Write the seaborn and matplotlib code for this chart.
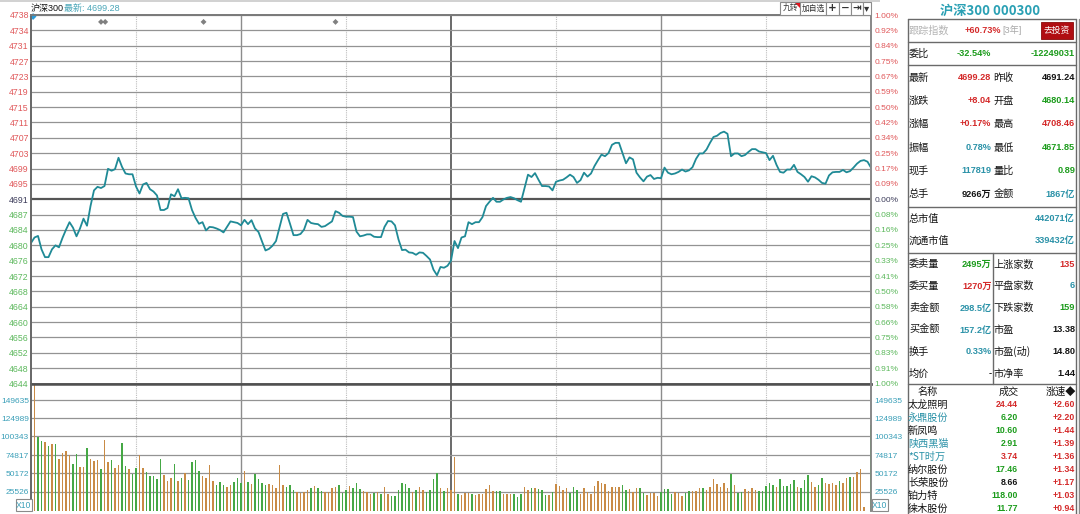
import numpy as np
import matplotlib
matplotlib.use('Agg')
import matplotlib.pyplot as plt
import seaborn as sns
from matplotlib.patches import Rectangle, Polygon
from matplotlib.lines import Line2D

sns.set_theme(style='white')
plt.rcParams['font.family'] = ['Liberation Sans', 'Noto Sans CJK SC', 'DejaVu Sans']

W, H = 1080, 514
PREV_CLOSE = 4691.24

# ---------------- data ----------------
price = [
    4680.1, 4681.5, 4681.9, 4678.5, 4676.5, 4676.5, 4678.5, 4679.5, 4679.0, 4681.4,
    4683.5, 4685.4, 4684.0, 4681.8, 4683.8, 4686.3, 4684.5, 4689.5, 4693.5, 4694.4,
    4694.1, 4694.6, 4699.0, 4698.5, 4698.9, 4701.8, 4699.5, 4697.8, 4697.6, 4697.6,
    4694.5, 4692.7, 4695.0, 4695.4, 4693.8, 4693.2, 4692.2, 4688.5, 4688.5, 4689.0,
    4692.5, 4692.0, 4693.8, 4691.5, 4691.6, 4691.5, 4688.5, 4686.5, 4685.0, 4685.4,
    4683.3, 4684.2, 4684.1, 4683.8, 4683.4, 4682.8, 4684.2, 4685.6, 4685.4, 4685.2,
    4684.6, 4686.0, 4684.9, 4685.9, 4683.8, 4682.9, 4680.5, 4678.2, 4678.6, 4679.4,
    4680.6, 4684.0, 4687.5, 4687.8, 4685.0, 4682.1, 4682.1, 4682.4, 4683.5, 4686.0,
    4685.2, 4685.0, 4684.9, 4684.2, 4684.4, 4685.0, 4685.6, 4688.2, 4687.8, 4687.0,
    4686.8, 4686.8, 4686.7, 4683.0, 4681.8, 4682.0, 4682.3, 4682.3, 4681.7, 4681.6,
    4681.6, 4684.2, 4685.7, 4685.6, 4684.6, 4681.0, 4678.3, 4678.4, 4677.7, 4677.6,
    4677.1, 4677.7, 4677.6, 4676.8, 4675.9, 4673.3, 4671.9, 4674.0, 4673.8, 4674.3,
    4675.6, 4680.6, 4678.8, 4681.5, 4681.8, 4685.4, 4684.9, 4685.4, 4685.4, 4686.7,
    4689.5, 4690.6, 4691.6, 4690.6, 4690.6, 4691.2, 4691.6, 4691.8, 4691.5, 4691.0,
    4690.6, 4694.0, 4697.5, 4696.9, 4697.9, 4696.2, 4694.6, 4694.6, 4694.5, 4693.5,
    4695.7, 4696.0, 4696.2, 4696.8, 4697.5, 4696.9, 4695.4, 4696.1, 4698.0, 4697.0,
    4697.8, 4699.7, 4701.2, 4702.6, 4702.2, 4703.0, 4705.1, 4705.6, 4705.6, 4703.0,
    4700.4, 4701.9, 4701.4, 4698.0, 4696.8, 4695.8, 4697.0, 4697.4, 4696.4, 4696.7,
    4696.6, 4699.3, 4698.0, 4697.6, 4697.8, 4698.2, 4698.8, 4698.3, 4698.6, 4699.4,
    4701.5, 4702.9, 4702.9, 4703.9, 4705.6, 4707.1, 4707.4, 4708.1, 4708.46, 4707.9,
    4702.2, 4702.9, 4702.9, 4702.2, 4702.5, 4703.3, 4704.0, 4704.0, 4703.4, 4703.2,
    4703.0, 4701.2, 4702.3, 4700.0, 4698.2, 4698.0, 4698.8, 4698.8, 4700.0, 4698.2,
    4697.6, 4696.9, 4695.7, 4697.1, 4696.8, 4696.2, 4695.4, 4695.2, 4697.3, 4698.1,
    4698.2, 4698.2, 4698.7, 4698.1, 4698.4, 4699.3, 4700.3, 4701.0, 4701.2, 4700.8,
    4699.28,
]

volume_am = [
    175000, 99900, 94100, 92700, 86800, 90000, 90000, 70200, 77800, 80500,
    74700, 63000, 76000, 58400, 58400, 84600, 69300, 67100, 68400, 56200,
    95400, 65200, 68400, 57200, 61700, 90900, 60900, 55700, 49500, 57200,
    75100, 58000, 52100, 46700, 46700, 43200, 69300, 47600, 39900, 44000,
    63400, 39500, 44000, 50300, 41300, 65200, 68400, 53000, 46700, 44500,
    61700, 39900, 34900, 39000, 34900, 32200, 34000, 38100, 43500, 36700,
    53900, 38100, 35800, 49500, 42300, 37200, 34000, 35800, 34000, 30400,
    61700, 34500, 31300, 34000, 27700, 24600, 23300, 25100, 27700, 29900,
    33100, 30800, 26300, 25100, 25100, 29900, 32200, 34000, 24200, 27700,
    33100, 30800, 36700, 29000, 26300, 25100, 22400, 24200, 25100, 22400,
    32200, 22400, 19600, 19600, 27700, 36700, 35800, 29900, 25100, 27700,
    32200, 27700, 25100, 27700, 42300, 50300, 30800, 26300, 29900, 27700,
]
volume_pm = [
    72000, 22400, 21200, 23300, 23300, 21900, 21200, 23000, 22400, 29000,
    34900, 26300, 26300, 26300, 21900, 21900, 21900, 22400, 18800, 22400,
    31300, 27700, 30400, 30400, 29500, 27700, 21200, 21200, 24600, 35800,
    33100, 27700, 30400, 23300, 31300, 27700, 22400, 29900, 25100, 22400,
    33100, 39500, 37200, 36300, 26800, 32200, 32200, 31300, 34000, 27700,
    29000, 25100, 29900, 30400, 24200, 21200, 23300, 23300, 20100, 24600,
    29000, 28600, 23000, 24600, 23300, 20100, 23300, 26800, 26800, 26800,
    30400, 30400, 27700, 31700, 42300, 35800, 31300, 36700, 29900, 49500,
    34000, 23300, 25100, 29000, 26300, 29900, 27700, 26300, 26300, 33100,
    37600, 34500, 32200, 42300, 33100, 33100, 35800, 41300, 32200, 30800,
    41300, 48100, 38100, 32200, 34900, 43500, 36700, 35800, 36700, 34500,
    39900, 36700, 43500, 45300, 45300, 52100, 56200, 4500, 0, 116000,
]
# u = up bar (orange), d = down bar (green)
volume_dir_am = ("uddududuuu" "udduuduuud" "uuduuddudd" "uuddddduuu"
                 "dududddduu" "uuddduuddd" "ududddduuu" "uuddduuuud"
                 "udduuuuddd" "uddduuudud" "uuddddddud" "uudddduduu")
volume_dir_pm = ("uduuuduuuu" "uudduuuddd" "uududddudu" "uuuddduuuu"
                 "uuuuuuuudd" "uuudduuuud" "ddduuudduu" "uduuuuuuud"
                 "udduuuuddd" "ddudddddud" "dduudduuuu" "duuduuuuud")

price_left_labels = ['4738', '4734', '4731', '4727', '4723', '4719', '4715', '4711',
                     '4707', '4703', '4699', '4695', '4691', '4687', '4684', '4680',
                     '4676', '4672', '4668', '4664', '4660', '4656', '4652', '4648', '4644']
price_right_labels = ['1.00%', '0.92%', '0.84%', '0.75%', '0.67%', '0.59%', '0.50%', '0.42%',
                      '0.34%', '0.25%', '0.17%', '0.09%', '0.00%', '0.08%', '0.16%', '0.25%',
                      '0.33%', '0.41%', '0.50%', '0.58%', '0.66%', '0.75%', '0.83%', '0.91%', '1.00%']
volume_ticks = [25526, 50172, 74817, 100343, 124989, 149635]
event_minutes = [20, 21.2, 49.3, 87]

RED = '#d42a2a'
GREEN = '#1c9c1c'
TEAL = '#2b92a8'
BLACK = '#141414'
LRED = '#e0585a'
LGREEN = '#5cb85c'
UP_BAR = '#c98b45'
DN_BAR = '#45a845'
LINE = '#1f8a96'

# ---------------- figure ----------------
fig = plt.figure(figsize=(W / 100, H / 100), dpi=100)
fig.patch.set_facecolor('white')


def fx(px):
    return px / W


def fy(py):
    return 1 - py / H


X0, X1 = 31, 871
PT, PB, VB = 15, 383.5, 510.5
ax = fig.add_axes([fx(X0), fy(PB), (X1 - X0) / W, (PB - PT) / H])
axv = fig.add_axes([fx(X0), fy(VB), (X1 - X0) / W, (VB - PB) / H])

n_min = len(price) - 1
lo, hi = PREV_CLOSE * 0.99, PREV_CLOSE * 1.01
step = (hi - PREV_CLOSE) / 12
price_ticks = PREV_CLOSE + step * np.arange(12, -13, -1)

for a in (ax, axv):
    a.set_facecolor('white')
    a.set_xlim(0, n_min)
    a.set_xticks([])
    for v in (30, 90, 150, 210):
        a.axvline(v, color='#bdbdbd', lw=0.8, ls=(0, (1, 1)), zorder=1)
    for v in (60, 180):
        a.axvline(v, color='#8c8c8c', lw=1.0, zorder=1)
    a.axvline(120, color='#5e5e5e', lw=1.3, zorder=1)

# price grid
ax.set_ylim(lo, hi)
for i, t in enumerate(price_ticks):
    if i == 12:
        ax.axhline(t, color='#555555', lw=1.6, zorder=1)
    else:
        ax.axhline(t, color='#939393', lw=0.9, zorder=1)

minutes = np.arange(len(price))
sns.lineplot(x=minutes, y=price, ax=ax, color=LINE, lw=1.3, zorder=5)

# event markers at top
sns.scatterplot(x=event_minutes, y=[PREV_CLOSE + step * 11.55] * len(event_minutes), ax=ax,
                marker='D', s=9, color='#808080', edgecolor='none', zorder=6)
sns.scatterplot(x=[0.6], y=[PREV_CLOSE + step * 11.9], ax=ax, marker='D', s=12,
                color='#2a9ad6', edgecolor='none', zorder=6, clip_on=False)

ax.set_yticks(price_ticks)
ax.set_yticklabels(price_left_labels)
ax.tick_params(axis='y', length=0, pad=1.5, labelsize=6.3)
left_cols = [LRED] * 12 + ['#3c3c5a'] + [LGREEN] * 12
for lab, c in zip(ax.get_yticklabels(), left_cols):
    lab.set_color(c)
ax2 = ax.twinx()
ax2.set_ylim(lo, hi)
ax2.set_yticks(price_ticks)
ax2.set_yticklabels(price_right_labels)
ax2.tick_params(axis='y', length=0, pad=2.5, labelsize=6.0)
for lab, c in zip(ax2.get_yticklabels(), left_cols):
    lab.set_color(c)
ax2.grid(False)
ax.set_xlabel('')
ax.set_ylabel('')
ax.legend_ = None

for a in (ax, ax2):
    a.spines['left'].set_color('#666666')
    a.spines['left'].set_linewidth(1.2)
    a.spines['right'].set_color('#8a8a8a')
    a.spines['top'].set_color('#7a7a7a')
    a.spines['bottom'].set_color('#505050')
    a.spines['bottom'].set_linewidth(1.8)

# volume
vol = volume_am + volume_pm
dirs = volume_dir_am + volume_dir_pm
bar_minutes = np.arange(1, len(vol) + 1)
colors = [UP_BAR if d == 'u' else DN_BAR for d in dirs]
axv.set_ylim(0, 172000)
for t in volume_ticks:
    axv.axhline(t, color='#939393', lw=0.9, zorder=1)
axv.bar(bar_minutes, vol, width=0.56, color=colors, linewidth=0, zorder=3)
axv.set_yticks(volume_ticks)
axv.set_yticklabels([str(v) for v in volume_ticks])
axv.tick_params(axis='y', length=0, pad=1.5, labelsize=6.0, labelcolor='#3a9fb8')
axv2 = axv.twinx()
axv2.set_ylim(0, 172000)
axv2.set_yticks(volume_ticks)
axv2.set_yticklabels([str(v) for v in volume_ticks])
axv2.tick_params(axis='y', length=0, pad=2.5, labelsize=6.0, labelcolor='#3a9fb8')
for a in (axv, axv2):
    a.spines['top'].set_visible(False)
    a.spines['bottom'].set_visible(False)
    a.spines['left'].set_color('#666666')
    a.spines['left'].set_linewidth(1.2)
    a.spines['right'].set_color('#8a8a8a')

# X10 boxes
for bx in (16, 872):
    fig.patches.append(Rectangle((fx(bx), fy(511)), 16 / W, 12 / H, transform=fig.transFigure,
                                 facecolor='white', edgecolor='#8a8a8a', lw=0.8))
    fig.text(fx(bx + 8), fy(505), 'X10', ha='center', va='center', fontsize=6.2, color='#3a9fb8')

# ---------------- header ----------------
fig.patches.append(Rectangle((0, fy(2)), fx(880), 2 / H, transform=fig.transFigure,
                             facecolor='#d2d2d2', edgecolor='none'))
fig.text(fx(31), fy(8), '沪深300', ha='left', va='center', fontsize=6.5, color=BLACK)
fig.text(fx(64), fy(8), '最新: 4699.28', ha='left', va='center', fontsize=6.5, color='#4aa6b8')

tool_boxes = [(780, 800, '九转'), (800, 826, '加自选'), (826, 839, '+'), (839, 851, '−'),
              (851, 863, '⇥'), (863, 871, '▾')]
for xa, xb, lab in tool_boxes:
    fig.patches.append(Rectangle((fx(xa), fy(14.5)), (xb - xa) / W, 12.5 / H,
                                 transform=fig.transFigure, facecolor='white',
                                 edgecolor='#8c8c8c', lw=0.8))
    fam = ['DejaVu Sans'] if lab in ('⇥', '▾', '+', '−') else ['Noto Sans CJK SC', 'DejaVu Sans']
    fig.text(fx((xa + xb) / 2), fy(8.3), lab, ha='center', va='center',
             fontsize=5.6 if len(lab) > 1 else 7.5, color='#333333', family=fam,
             fontweight='bold' if lab in ('+', '−', '⇥') else 'normal')
fig.patches.append(Polygon([(fx(795), fy(2.5)), (fx(800), fy(2.5)), (fx(800), fy(7.5))],
                           closed=True, transform=fig.transFigure, facecolor='#e0141e',
                           edgecolor='none'))

# ---------------- right panel ----------------
PL, PR, PM = 907.5, 1076, 992.5


def hline(y, x0=PL, x1=PR, c='#6a6a6a', lw=1.0):
    fig.lines.append(Line2D([fx(x0), fx(x1)], [fy(y), fy(y)], transform=fig.transFigure,
                            color=c, lw=lw))


def vline(x, y0, y1, c='#6a6a6a', lw=1.0):
    fig.lines.append(Line2D([fx(x), fx(x)], [fy(y0), fy(y1)], transform=fig.transFigure,
                            color=c, lw=lw))


fig.text(fx(990), fy(10.5), '沪深300 000300', ha='center', va='center', fontsize=9.5,
         color='#2aa0b4', fontweight='bold', family=['Noto Sans CJK SC', 'DejaVu Sans'])

vline(PL, 19, 514)
vline(PR, 19, 514)
vline(1078.5, 19, 514, c='#8a8a8a')
hline(19)
for yy in (41.5, 65, 206.5, 253, 384):
    hline(yy)
vline(PM, 253, 384)

cfs = dict(fontsize=7.3, va='center', family=['Noto Sans CJK SC', 'DejaVu Sans'])
nfs = dict(fontsize=6.6, va='center', fontweight='bold')

fig.text(fx(909), fy(30.5), '跟踪指数', ha='left', color='#b4b4b4', **cfs)
fig.text(fx(1001), fy(30.5), '+60.73%', ha='right', color=RED, **nfs)
fig.text(fx(1002), fy(30.5), '[3年]', ha='left', color='#a8a8a8', fontsize=6.6, va='center')
fig.patches.append(Rectangle((fx(1041), fy(38.5)), 32 / W, 16.5 / H, transform=fig.transFigure,
                             facecolor='#b00e12', edgecolor='#8a0a0a', lw=0.6))
fig.text(fx(1057), fy(30.3), '去投资', ha='center', color='white', fontsize=6.3, va='center',
         family=['Noto Sans CJK SC', 'DejaVu Sans'])

fig.text(fx(909), fy(53.5), '委比', ha='left', color=BLACK, **cfs)
fig.text(fx(991), fy(53.5), '-32.54%', ha='right', color=GREEN, **nfs)
fig.text(fx(1075), fy(53.5), '-12249031', ha='right', color=GREEN, **nfs)

quote_names_l = ['最新', '涨跌', '涨幅', '振幅', '现手', '总手']
quote_vals_l = ['4699.28', '+8.04', '+0.17%', '0.78%', '117819', '9266万']
quote_cols_l = [RED, RED, RED, TEAL, TEAL, BLACK]
quote_names_r = ['昨收', '开盘', '最高', '最低', '量比', '金额']
quote_vals_r = ['4691.24', '4680.14', '4708.46', '4671.85', '0.89', '1867亿']
quote_cols_r = [BLACK, GREEN, RED, GREEN, GREEN, TEAL]
quote_y = [77.5, 100.5, 124, 147.5, 171, 194.5]
for i, y in enumerate(quote_y):
    fig.text(fx(909), fy(y), quote_names_l[i], ha='left', color=BLACK, **cfs)
    fig.text(fx(991), fy(y), quote_vals_l[i], ha='right', color=quote_cols_l[i],
             family=['Liberation Sans', 'Noto Sans CJK SC'], **nfs)
    fig.text(fx(993.5), fy(y), quote_names_r[i], ha='left', color=BLACK, **cfs)
    fig.text(fx(1075), fy(y), quote_vals_r[i], ha='right', color=quote_cols_r[i],
             family=['Liberation Sans', 'Noto Sans CJK SC'], **nfs)

fig.text(fx(909), fy(218.5), '总市值', ha='left', color=BLACK, **cfs)
fig.text(fx(1075), fy(218.5), '442071亿', ha='right', color=TEAL,
         family=['Liberation Sans', 'Noto Sans CJK SC'], **nfs)
fig.text(fx(909), fy(241), '流通市值', ha='left', color=BLACK, **cfs)
fig.text(fx(1075), fy(241), '339432亿', ha='right', color=TEAL,
         family=['Liberation Sans', 'Noto Sans CJK SC'], **nfs)

order_names_l = ['委卖量', '委买量', '卖金额', '买金额', '换手', '均价']
order_vals_l = ['2495万', '1270万', '298.5亿', '157.2亿', '0.33%', '-']
order_cols_l = [GREEN, RED, TEAL, TEAL, TEAL, BLACK]
order_names_r = ['上涨家数', '平盘家数', '下跌家数', '市盈', '市盈(动)', '市净率']
order_vals_r = ['135', '6', '159', '13.38', '14.80', '1.44']
order_cols_r = [RED, TEAL, GREEN, BLACK, BLACK, BLACK]
order_y = [264.5, 286, 308, 330, 351.5, 373.5]
for i, y in enumerate(order_y):
    fig.text(fx(909), fy(y), order_names_l[i], ha='left', color=BLACK, **cfs)
    fig.text(fx(991.5), fy(y), order_vals_l[i], ha='right', color=order_cols_l[i],
             family=['Liberation Sans', 'Noto Sans CJK SC'], **nfs)
    fig.text(fx(993.5), fy(y), order_names_r[i], ha='left', color=BLACK, **cfs)
    fig.text(fx(1075), fy(y), order_vals_r[i], ha='right', color=order_cols_r[i], **nfs)

fig.text(fx(928), fy(391.5), '名称', ha='center', color=BLACK, **cfs)
fig.text(fx(1009), fy(391.5), '成交', ha='center', color=BLACK, **cfs)
fig.text(fx(1076), fy(391.5), '涨速◆', ha='right', color=BLACK, **cfs)

stock_names = ['太龙照明', '永鼎股份', '新凤鸣', '陕西黑猫', '*ST时万', '纳尔股份', '长荣股份',
               '铂力特', '徕木股份']
stock_name_cols = [BLACK, TEAL, BLACK, TEAL, TEAL, BLACK, BLACK, BLACK, BLACK]
stock_prices = ['24.44', '6.20', '10.60', '2.91', '3.74', '17.46', '8.66', '118.00', '11.77']
stock_price_cols = [RED, GREEN, GREEN, GREEN, RED, GREEN, BLACK, GREEN, GREEN]
stock_speed = ['+2.60', '+2.20', '+1.44', '+1.39', '+1.36', '+1.34', '+1.17', '+1.03', '+0.94']
stock_y = [404.5, 417.5, 430.5, 443.5, 456.5, 469.5, 482.5, 495.5, 508.5]
for i, y in enumerate(stock_y):
    fig.text(fx(908), fy(y), stock_names[i], ha='left', color=stock_name_cols[i], **cfs)
    fig.text(fx(1018), fy(y), stock_prices[i], ha='right', color=stock_price_cols[i],
             fontsize=6.3, va='center', fontweight='bold')
    fig.text(fx(1075), fy(y), stock_speed[i], ha='right', color=RED,
             fontsize=6.3, va='center', fontweight='bold')

fig.savefig('out.png', dpi=100, facecolor='white')
